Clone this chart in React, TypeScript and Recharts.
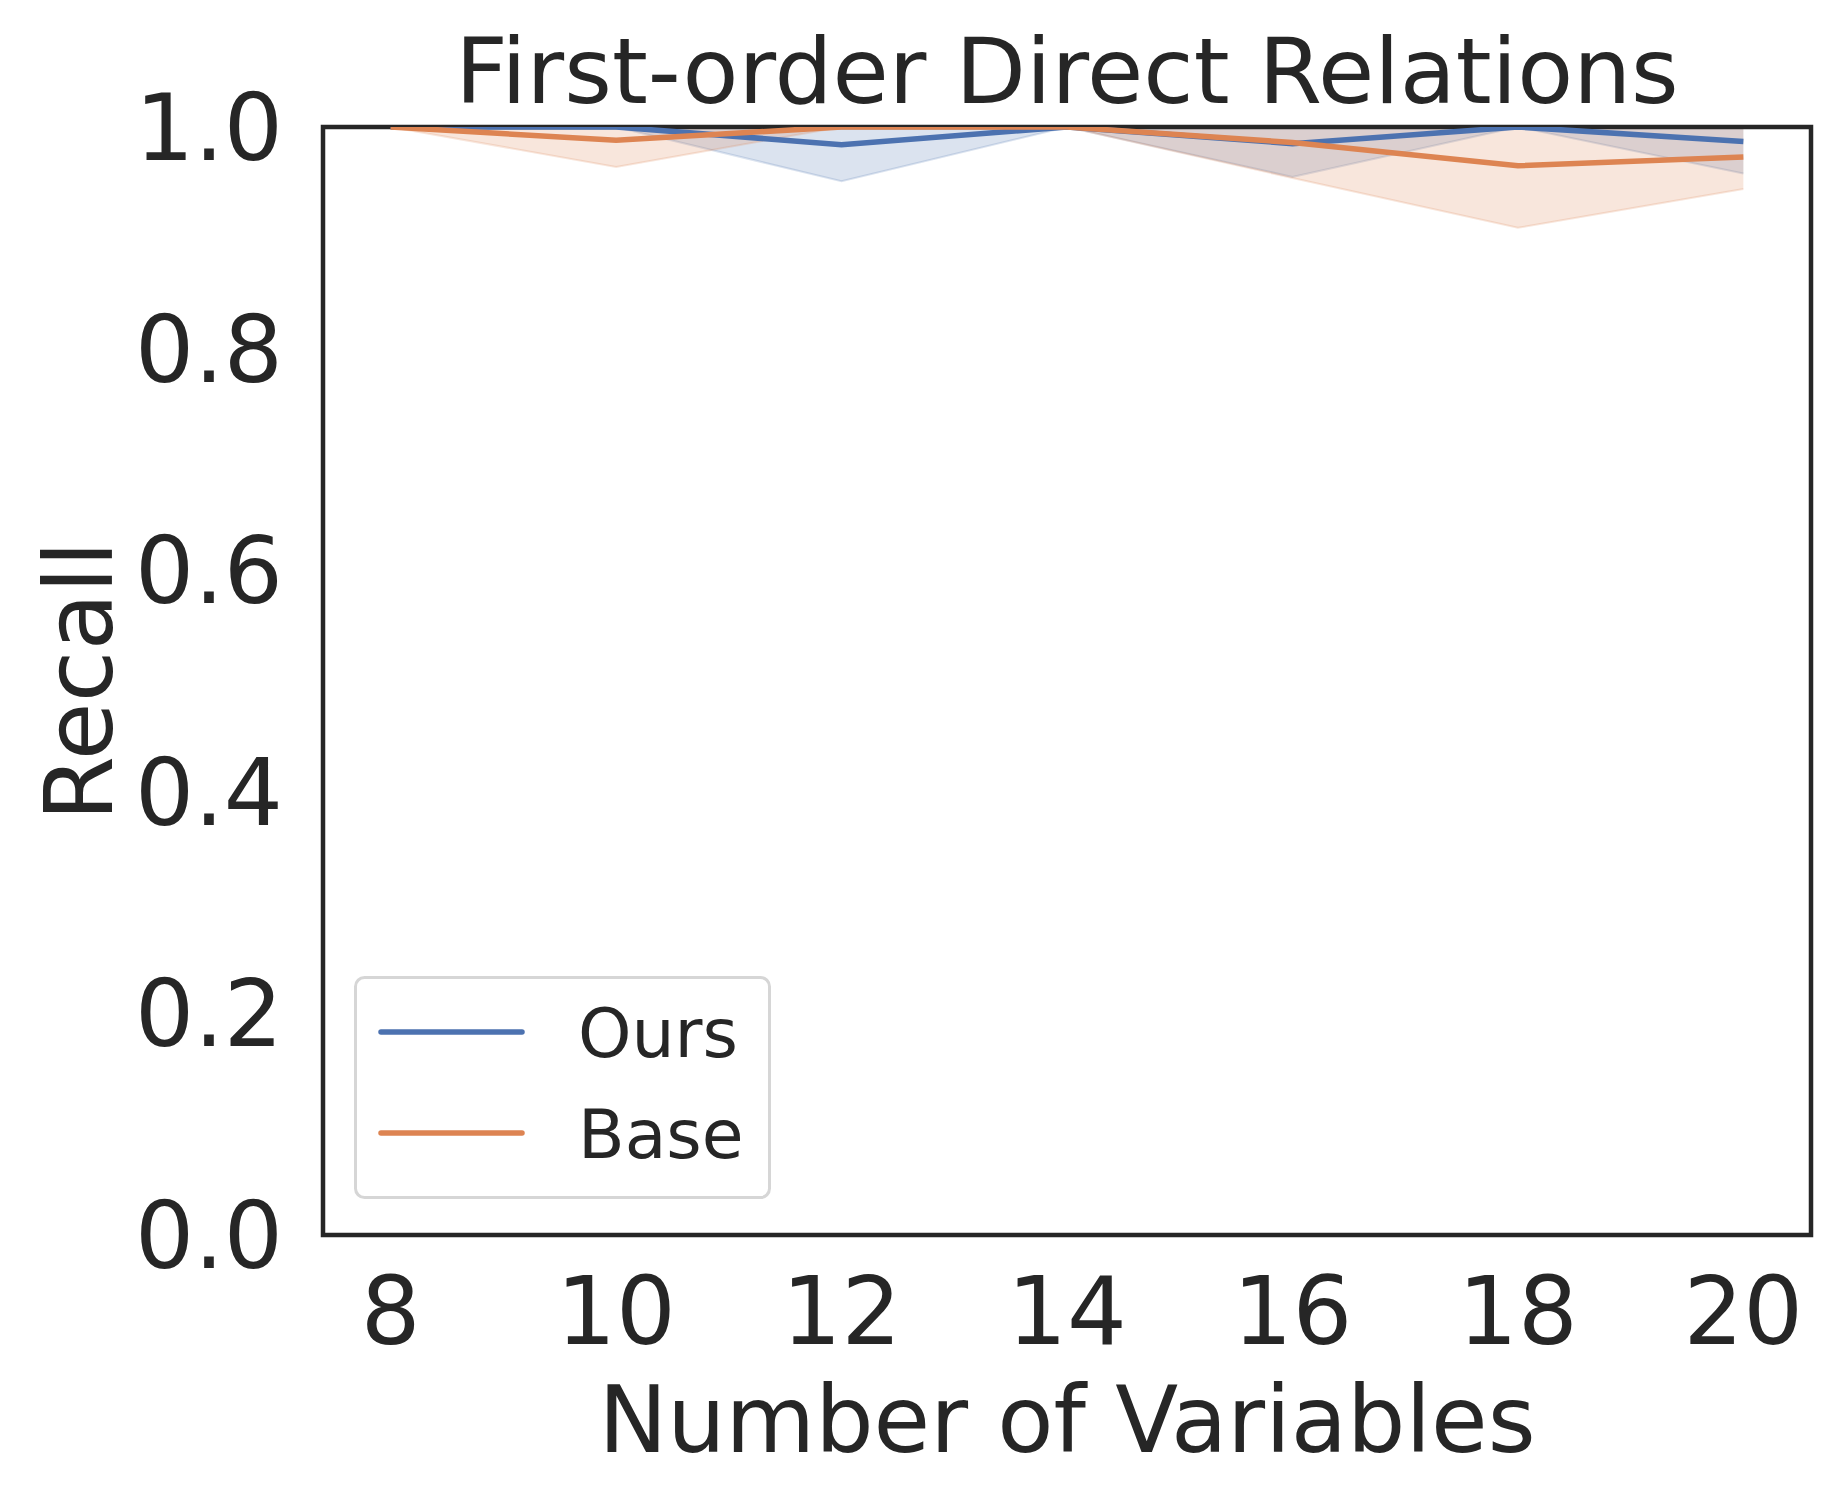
import React from 'react';
import { ComposedChart, Area, Line, XAxis, YAxis, ReferenceArea, Label } from 'recharts';

const numVars = [8, 10, 12, 14, 16, 18, 20];
const oursMean = [1, 1, 0.984, 1, 0.985, 1, 0.987];
const oursLow = [1, 1, 0.951, 1, 0.955, 1, 0.958];
const oursHigh = [1, 1, 1, 1, 1, 1, 1];
const baseMean = [1, 0.988, 1, 1, 0.986, 0.965, 0.973];
const baseLow = [1, 0.964, 1, 1, 0.954, 0.909, 0.944];
const baseHigh = [1, 1, 1, 1, 1, 1, 1];
const yTicks = [0, 0.2, 0.4, 0.6, 0.8, 1.0];
const xTicks = [8, 10, 12, 14, 16, 18, 20];
const seriesNames = ['Ours', 'Base'];

const BLUE = '#4c72b0';
const ORANGE = '#dd8452';
const TEXT = '#262626';
const FONT = '"DejaVu Sans", sans-serif';

const data = numVars.map((x, i) => ({
  x,
  ours: oursMean[i],
  oursBand: [oursLow[i], oursHigh[i]],
  base: baseMean[i],
  baseBand: [baseLow[i], baseHigh[i]],
}));

const LegendBox = () => (
  <svg width={420} height={226} style={{ display: 'block' }}>
    <rect x={1.5} y={1.5} width={414} height={220} rx={9} ry={9} fill="#ffffff" stroke="#d6d6d6" strokeWidth={3} />
    <line x1={27} x2={168} y1={56} y2={56} stroke={BLUE} strokeWidth={5.5} strokeLinecap="round" />
    <text x={224} y={81} fontSize={68} fill={TEXT} fontFamily={FONT}>{seriesNames[0]}</text>
    <line x1={27} x2={168} y1={157} y2={157} stroke={ORANGE} strokeWidth={5.5} strokeLinecap="round" />
    <text x={224} y={182} fontSize={68} fill={TEXT} fontFamily={FONT}>{seriesNames[1]}</text>
  </svg>
);

export default function App() {
  return (
    <div style={{ position: 'absolute', left: 0, top: 0, width: 1840, height: 1501, background: '#fff' }}>
      <svg width={1840} height={130} style={{ position: 'absolute', left: 0, top: 0 }}>
        <text x={1067} y={103} textAnchor="middle" fontSize={91.5} fill={TEXT} fontFamily={FONT}>
          First-order Direct Relations
        </text>
      </svg>
      <ComposedChart
        width={1840}
        height={1501}
        data={data}
        margin={{ top: 127, right: 29, bottom: 0, left: 0 }}
        style={{ position: 'absolute', left: 0, top: 0 }}
      >
        <XAxis
          dataKey="x"
          type="number"
          domain={[7.4, 20.6]}
          ticks={xTicks}
          allowDataOverflow
          height={266}
          tickLine={false}
          axisLine={false}
          tickSize={0}
          tickMargin={42}
          tick={{ fontSize: 94, fill: TEXT, fontFamily: FONT }}
        >
          <Label
            content={({ viewBox }: any) => (
              <text
                x={viewBox.x + viewBox.width / 2}
                y={1452}
                textAnchor="middle"
                fontSize={92}
                fill={TEXT}
                fontFamily={FONT}
              >
                Number of Variables
              </text>
            )}
          />
        </XAxis>
        <YAxis
          type="number"
          domain={[0, 1]}
          ticks={yTicks}
          allowDataOverflow
          width={323}
          tickLine={false}
          axisLine={false}
          tickSize={0}
          tickMargin={40}
          tickFormatter={(v: number) => v.toFixed(1)}
          tick={{ fontSize: 93, fill: TEXT, fontFamily: FONT }}
        >
          <Label
            content={({ viewBox }: any) => (
              <text
                x={112}
                y={viewBox.y + viewBox.height / 2}
                transform={`rotate(-90, 112, ${viewBox.y + viewBox.height / 2})`}
                textAnchor="middle"
                fontSize={94}
                fill={TEXT}
                fontFamily={FONT}
              >
                Recall
              </text>
            )}
          />
        </YAxis>
        <Area
          dataKey="oursBand"
          type="linear"
          fill={BLUE}
          fillOpacity={0.2}
          stroke={BLUE}
          strokeOpacity={0.2}
          strokeWidth={2}
          isAnimationActive={false}
          legendType="none"
        />
        <Area
          dataKey="baseBand"
          type="linear"
          fill={ORANGE}
          fillOpacity={0.2}
          stroke={ORANGE}
          strokeOpacity={0.2}
          strokeWidth={2}
          isAnimationActive={false}
          legendType="none"
        />
        <Line
          dataKey="ours"
          name={seriesNames[0]}
          type="linear"
          stroke={BLUE}
          strokeWidth={5.5}
          dot={false}
          isAnimationActive={false}
        />
        <Line
          dataKey="base"
          name={seriesNames[1]}
          type="linear"
          stroke={ORANGE}
          strokeWidth={5.5}
          dot={false}
          isAnimationActive={false}
        />
        <ReferenceArea
          x1={7.4}
          x2={20.6}
          y1={0}
          y2={1}
          fill="none"
          fillOpacity={0}
          stroke={TEXT}
          strokeWidth={4.5}
          ifOverflow="extendDomain"
        />
      </ComposedChart>
      <div style={{ position: 'absolute', left: 354, top: 976, width: 420, height: 226 }}>
        <LegendBox />
      </div>
    </div>
  );
}
